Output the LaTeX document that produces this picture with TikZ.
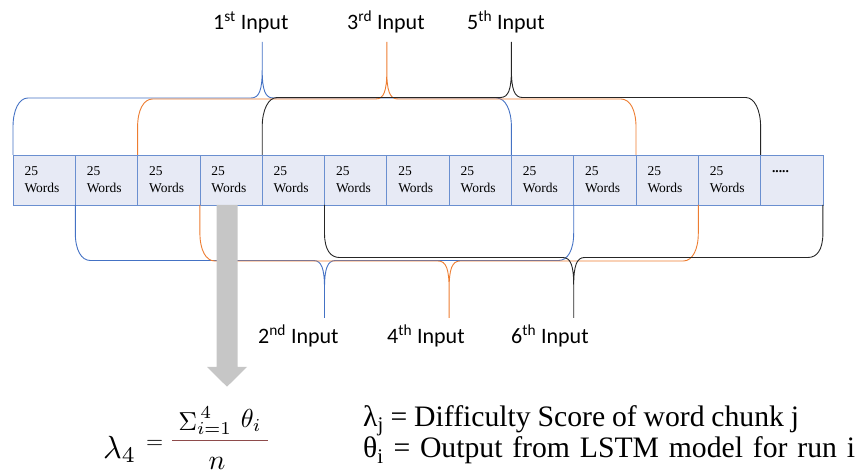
\documentclass[tikz,border=0pt]{standalone}
\usepackage{amsmath}
\usepackage{graphicx}
\usepackage{fontspec}
\setmainfont{Liberation Serif}
\newfontfamily\labelfont{Carlito}
\usetikzlibrary{calc}

\definecolor{braceblue}{HTML}{4472C4}
\definecolor{braceorange}{HTML}{ED7D31}
\definecolor{braceblack}{HTML}{262626}
\definecolor{cellfill}{HTML}{E7EAF5}
\definecolor{cellline}{HTML}{6A8FD0}
\definecolor{arrowgray}{HTML}{C6C6C6}
\definecolor{barred}{HTML}{8E4B4B}

% curly brace over (sign 1) or under (sign -1) a run of chunks
% #1 colour, #2 start point, #3 end point, #4 sign, #5 distance of the long side
\newcommand\chunkbrace[5]{%
  \draw[brace,#1] let \p1=#2, \p2=#3,
      \n1={\x1}, \n2={\x2}, \n3={(\x1+\x2)/2}, \n8={\y1},
      \n4={\n8+(#4)*(#5)}, \n5={\n8+(#4)*113},
      \n6={\n8+(#4)*28}, \n7={\n8+(#4)*45}
    in (\p1) -- (\n1,\n6) .. controls (\n1,\n7) and ({\n1+6},\n4) .. ({\n1+15},\n4)
       -- ({\n3-11},\n4) .. controls ({\n3-3},\n4) and (\n3,{\n4+(#4)*8}) .. (\n3,{\n4+(#4)*28})
       -- (\n3,\n5)
       (\n3,{\n4+(#4)*28}) .. controls (\n3,{\n4+(#4)*8}) and ({\n3+3},\n4) .. ({\n3+11},\n4)
       -- ({\n2-15},\n4) .. controls ({\n2-6},\n4) and (\n2,\n7) .. (\n2,\n6) -- (\p2);
}

\begin{document}
\begin{tikzpicture}[x=1pt,y=1pt,
  chunk/.style={draw=cellline, fill=cellfill, line width=0.8pt,
    minimum width=62.3pt, minimum height=50pt, inner xsep=11.5pt, inner ysep=0pt,
    text width=39.3pt, align=left, outer sep=0pt, anchor=north west,
    font=\fontsize{13.5}{17}\selectfont},
  inlabel/.style={font=\labelfont\fontsize{22}{25}\selectfont, anchor=base west, inner sep=0pt},
  brace/.style={line width=0.9pt},
  textline/.style={anchor=base west, inner sep=0pt, font=\fontsize{29.7}{32}\selectfont},
  mathpart/.style={inner sep=0pt}
]
\useasboundingbox (0,0) rectangle (866,473);

% the row of word chunks
\foreach \i in {1,...,12} {
  \node[chunk] (c\i) at ({13+(\i-1)*62.3},318) {25\\Words};
}
\node[chunk] (c13) at ({13+12*62.3},318) {\textbf{.....}\\\mbox{}};

% input labels
\node[inlabel] (in1) at (213,443.7) {1\textsuperscript{st} Input};
\node[inlabel] (in3) at (347,443.7) {3\textsuperscript{rd} Input};
\node[inlabel] (in5) at (467,443.7) {5\textsuperscript{th} Input};
\node[inlabel] (in2) at (258,129.7) {2\textsuperscript{nd} Input};
\node[inlabel] (in4) at (387,129.7) {4\textsuperscript{th} Input};
\node[inlabel] (in6) at (511,129.7) {6\textsuperscript{th} Input};

% odd inputs above the row
\chunkbrace{braceblue}{(c1.north west)}{(c9.north west)}{1}{57}
\chunkbrace{braceorange}{(c3.north west)}{(c11.north west)}{1}{56}
\chunkbrace{braceblack}{(c5.north west)}{(c13.north west)}{1}{57.5}

% even inputs below the row
\chunkbrace{braceblue}{(c2.south west)}{(c10.south west)}{-1}{55.5}
\chunkbrace{braceorange}{(c4.south west)}{(c12.south west)}{-1}{56}
\chunkbrace{braceblack}{(c6.south west)}{(c13.south east)}{-1}{52.5}

% grey arrow from the fourth chunk down to its score
\fill[arrowgray] (216.5,268) -- (216.5,106) -- (207,106) -- (227,86.3)
  -- (247,106) -- (237.5,106) -- (237.5,268) -- cycle;

% score formula, set piece by piece
\node[mathpart, anchor=base west] (lam) at (103,15) {\scalebox{3.2}{$\lambda_4$}};
\node[mathpart, anchor=base west] (eq) at (146,24) {\scalebox{2.2}{$=$}};
\node[mathpart, anchor=base] (num) at (220,45)
  {\scalebox{2.6}{$\mathop{\Sigma}\nolimits_{i=1}^{\,4}\,\theta_i$}};
\node[mathpart, anchor=base] (den) at (217,4) {\scalebox{2.8}{$n$}};
\draw[barred, line width=1pt] (172,32) -- (268,32);

% legend
\node[textline] (def1) at (363,46.3) {\spaceskip=6.8pt λ\textsubscript{j} = Difficulty Score of word chunk j};
\node[textline] (def2) at (363,15) {\spaceskip=9.8pt θ\textsubscript{i} = Output from LSTM model for run i};
\end{tikzpicture}
\end{document}
